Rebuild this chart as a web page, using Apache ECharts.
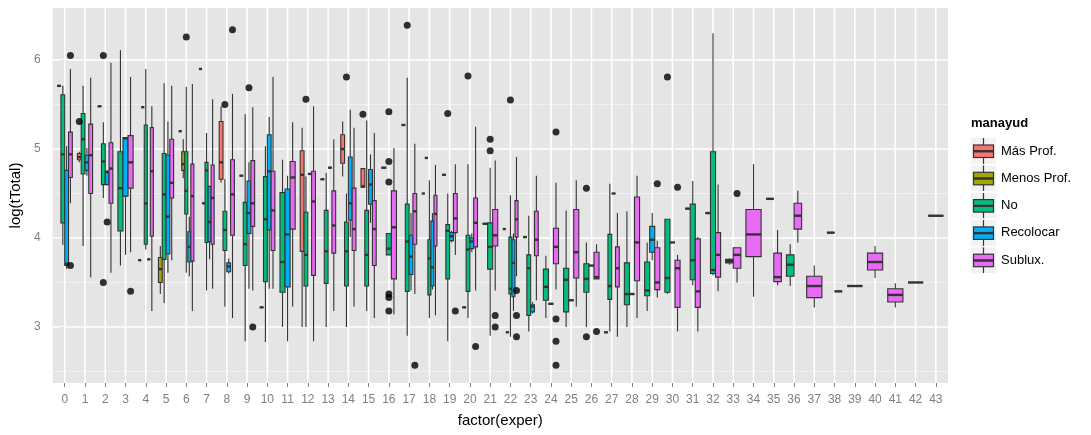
<!DOCTYPE html>
<html>
<head>
<meta charset="utf-8">
<script src="https://cdn.jsdelivr.net/npm/echarts@6/dist/echarts.min.js"></script>
<style>
  html, body { margin: 0; padding: 0; background: #ffffff; }
  #chart { width: 1091px; height: 435px; }
</style>
</head>
<body>
<div id="chart"></div>
<script>
// Experience levels (x categories) and y tick positions
const experTicks = [0,1,2,3,4,5,6,7,8,9,10,11,12,13,14,15,16,17,18,19,20,21,
                    22,23,24,25,26,27,28,29,30,31,32,33,34,35,36,37,38,39,40,41,42,43];
const yMajor = [3, 4, 5, 6];
const yMinor = [2.5, 3.5, 4.5, 5.5];

const groupNames = ['Más Prof.', 'Menos Prof.', 'No', 'Recolocar', 'Sublux.'];
const groupColors = ['#F8766D', '#A3A500', '#00BF7D', '#00B0F6', '#E76BF3'];

// Box statistics per group: [exper, lower whisker, q1, median, q3, upper whisker]
const masProf = [
  [0, 5.71, 5.71, 5.71, 5.71, 5.71],
  [1, 4.85, 4.88, 4.91, 4.95, 4.97],
  [2, 5.48, 5.48, 5.48, 5.48, 5.48],
  [4, 3.75, 3.75, 3.75, 3.75, 3.75],
  [6, 5.20, 5.20, 5.20, 5.20, 5.20],
  [7, 5.90, 5.90, 5.90, 5.90, 5.90],
  [8, 4.62, 4.66, 4.85, 5.31, 5.48],
  [9, 4.70, 4.70, 4.70, 4.70, 4.70],
  [10, 3.22, 3.22, 3.22, 3.22, 3.22],
  [12, 3.00, 3.85, 4.71, 4.98, 5.24],
  [13, 4.66, 4.66, 4.66, 4.66, 4.66],
  [14, 4.69, 4.84, 5.00, 5.16, 5.31],
  [15, 4.57, 4.57, 4.58, 4.78, 4.78],
  [16, 4.79, 4.79, 4.79, 4.79, 4.79],
  [17, 5.27, 5.27, 5.27, 5.27, 5.27],
  [18, 4.50, 4.50, 4.50, 4.50, 4.50],
  [19, 4.71, 4.71, 4.71, 4.71, 4.71],
  [20, 3.22, 3.22, 3.22, 3.22, 3.22],
  [21, 4.16, 4.16, 4.16, 4.16, 4.16],
  [22, 4.10, 4.10, 4.10, 4.10, 4.10],
  [23, 4.01, 4.01, 4.01, 4.01, 4.01],
  [27, 2.94, 2.94, 2.94, 2.94, 2.94],
  [31, 4.33, 4.33, 4.33, 4.33, 4.33],
  [32, 4.28, 4.28, 4.28, 4.28, 4.28],
  [38, 4.06, 4.06, 4.06, 4.06, 4.06]
];
const menosProf = [
  [4, 5.47, 5.47, 5.47, 5.47, 5.47],
  [5, 3.37, 3.50, 3.65, 3.78, 3.91],
  [6, 4.67, 4.76, 4.83, 4.97, 5.11],
  [7, 4.39, 4.39, 4.39, 4.39, 4.39],
  [18, 4.90, 4.90, 4.90, 4.90, 4.90],
  [22, 2.94, 2.94, 2.94, 2.94, 2.94]
];
const no = [
  [0, 3.92, 4.17, 4.94, 5.61, 5.71],
  [1, 3.91, 4.72, 5.11, 5.40, 5.71],
  [2, 4.45, 4.60, 4.86, 5.06, 5.30],
  [3, 3.69, 4.08, 4.56, 4.97, 6.11],
  [4, 3.87, 3.93, 4.39, 5.27, 5.90],
  [5, 3.27, 3.76, 4.49, 4.95, 5.74],
  [6, 3.61, 4.27, 4.53, 4.97, 5.70],
  [7, 3.41, 3.95, 4.76, 4.85, 5.18],
  [8, 3.23, 3.86, 4.09, 4.30, 4.66],
  [9, 2.84, 3.69, 3.93, 4.40, 5.39],
  [10, 2.83, 3.51, 4.21, 4.69, 5.03],
  [11, 3.00, 3.39, 3.73, 4.51, 4.88],
  [12, 3.00, 3.46, 3.81, 4.29, 4.69],
  [13, 3.00, 3.49, 3.85, 4.31, 4.73],
  [14, 3.00, 3.46, 3.85, 4.18, 4.50],
  [15, 3.18, 3.46, 3.81, 4.31, 5.32],
  [16, 3.81, 3.81, 3.88, 4.05, 4.05],
  [17, 2.90, 3.40, 3.96, 4.38, 5.80],
  [18, 3.10, 3.36, 3.77, 3.98, 4.65],
  [19, 2.84, 3.54, 4.08, 4.15, 4.50],
  [20, 3.10, 3.40, 3.87, 4.03, 4.83],
  [21, 2.90, 3.65, 3.90, 4.17, 4.79],
  [22, 2.89, 3.37, 3.43, 4.01, 4.48],
  [23, 2.95, 3.13, 3.66, 3.81, 4.25],
  [24, 3.10, 3.30, 3.45, 3.65, 3.80],
  [25, 3.00, 3.17, 3.53, 3.66, 4.31],
  [26, 3.00, 3.39, 3.54, 3.71, 3.95],
  [27, 2.95, 3.31, 3.46, 4.04, 4.61],
  [28, 3.00, 3.25, 3.37, 3.72, 4.30],
  [29, 3.18, 3.35, 3.41, 3.73, 3.95],
  [30, 3.37, 3.39, 3.55, 4.21, 4.21],
  [31, 3.47, 3.53, 3.75, 4.38, 4.64],
  [32, 3.58, 3.60, 3.64, 4.97, 6.30],
  [33, 3.70, 3.72, 3.74, 3.76, 3.77],
  [36, 3.46, 3.57, 3.70, 3.81, 3.93]
];
const recolocar = [
  [0, 3.65, 3.69, 3.71, 4.76, 5.03],
  [1, 4.70, 4.76, 4.85, 4.93, 5.01],
  [2, 4.60, 4.60, 4.74, 4.75, 4.76],
  [3, 3.81, 4.47, 5.12, 5.13, 5.13],
  [4, 3.76, 3.76, 3.76, 3.76, 3.76],
  [5, 3.61, 3.82, 4.24, 4.93, 5.31],
  [6, 3.57, 3.73, 3.90, 4.07, 4.24],
  [7, 3.76, 3.96, 4.18, 4.58, 4.58],
  [8, 3.60, 3.62, 3.68, 3.72, 3.77],
  [9, 3.43, 4.05, 4.28, 4.64, 4.85],
  [10, 3.43, 4.09, 4.75, 5.16, 5.36],
  [11, 2.84, 3.45, 4.04, 4.55, 4.70],
  [12, 4.72, 4.72, 4.72, 4.72, 4.72],
  [13, 4.79, 4.79, 4.79, 4.79, 4.79],
  [14, 4.01, 4.20, 4.39, 4.91, 5.44],
  [15, 4.17, 4.38, 4.60, 4.77, 4.94],
  [17, 3.41, 3.59, 3.79, 4.03, 4.28],
  [18, 3.42, 3.46, 3.67, 4.19, 4.28],
  [19, 3.95, 3.97, 4.02, 4.06, 4.08],
  [20, 3.84, 3.88, 3.96, 4.00, 4.05],
  [22, 3.18, 3.34, 3.72, 3.98, 4.05],
  [23, 3.15, 3.17, 3.23, 3.25, 3.28],
  [24, 3.26, 3.26, 3.26, 3.26, 3.26],
  [25, 3.30, 3.30, 3.30, 3.30, 3.30],
  [26, 3.69, 3.69, 3.69, 3.69, 3.69],
  [27, 4.50, 4.50, 4.50, 4.50, 4.50],
  [28, 3.37, 3.37, 3.37, 3.37, 3.37],
  [29, 3.75, 3.84, 3.98, 4.13, 4.28],
  [30, 3.95, 3.95, 3.95, 3.95, 3.95],
  [35, 4.44, 4.44, 4.44, 4.44, 4.44]
];
const sublux = [
  [0, 4.39, 4.68, 4.94, 5.19, 5.90],
  [1, 3.56, 4.50, 4.93, 5.28, 5.80],
  [2, 3.61, 4.39, 4.78, 5.07, 5.97],
  [3, 3.84, 4.56, 4.85, 5.15, 5.81],
  [4, 3.18, 4.02, 4.75, 5.24, 5.48],
  [5, 3.75, 4.45, 4.62, 5.11, 5.71],
  [6, 3.18, 3.74, 4.47, 4.83, 5.73],
  [7, 3.43, 3.93, 4.45, 4.82, 5.56],
  [8, 3.10, 4.03, 4.49, 4.88, 5.62],
  [9, 3.41, 4.13, 4.39, 4.87, 5.47],
  [10, 3.43, 3.86, 4.31, 4.75, 5.81],
  [11, 3.23, 4.10, 4.68, 4.86, 5.30],
  [12, 2.84, 3.58, 4.41, 4.75, 5.48],
  [13, 3.18, 3.83, 4.14, 4.53, 5.11],
  [14, 3.23, 3.86, 4.10, 4.56, 5.24],
  [15, 3.10, 3.69, 4.10, 4.42, 5.18],
  [16, 3.14, 3.54, 4.12, 4.53, 5.01],
  [17, 3.37, 3.93, 4.30, 4.50, 5.06],
  [18, 3.13, 3.91, 4.27, 4.48, 4.82],
  [19, 3.81, 4.06, 4.22, 4.50, 4.83],
  [20, 3.41, 3.90, 4.17, 4.45, 5.25],
  [21, 3.41, 3.91, 4.03, 4.32, 4.87],
  [22, 3.57, 4.01, 4.21, 4.42, 4.91],
  [23, 3.30, 3.80, 3.98, 4.30, 4.70],
  [24, 3.42, 3.71, 3.90, 4.11, 4.62],
  [25, 3.23, 3.55, 3.84, 4.32, 4.65],
  [26, 3.54, 3.54, 3.56, 3.84, 3.93],
  [27, 2.89, 3.45, 3.66, 3.90, 4.28],
  [28, 3.10, 3.52, 3.95, 4.46, 4.70],
  [29, 3.33, 3.42, 3.50, 3.89, 3.97],
  [30, 2.95, 3.22, 3.66, 3.75, 3.81],
  [31, 2.95, 3.22, 3.40, 3.99, 4.01],
  [32, 3.40, 3.56, 3.81, 4.06, 4.60],
  [33, 3.50, 3.66, 3.81, 3.89, 3.89],
  [34, 3.34, 3.79, 4.04, 4.32, 4.83],
  [35, 3.47, 3.51, 3.56, 3.83, 4.09],
  [36, 3.95, 4.10, 4.25, 4.39, 4.53],
  [37, 3.22, 3.33, 3.46, 3.57, 3.69],
  [38, 3.40, 3.40, 3.40, 3.40, 3.40],
  [39, 3.46, 3.46, 3.46, 3.46, 3.46],
  [40, 3.55, 3.64, 3.73, 3.83, 3.91],
  [41, 3.22, 3.28, 3.36, 3.43, 3.49],
  [42, 3.50, 3.50, 3.50, 3.50, 3.50],
  [43, 4.25, 4.25, 4.25, 4.25, 4.25]
];

// Outlying observations per group: [exper, log(tTotal)]
const masProfOut = [[1, 5.31], [15, 5.39]];
const menosProfOut = [];
const noOut = [
  [2, 6.05], [2, 3.50], [6, 6.26], [8, 5.50], [12, 5.56], [14, 5.81],
  [16, 5.42], [16, 4.86], [16, 4.63], [16, 3.37], [16, 3.33], [16, 3.18],
  [17, 6.39], [19, 5.40], [20, 5.82], [21, 5.11], [21, 4.98], [22, 5.55],
  [26, 4.56], [26, 2.89], [30, 5.81]
];
const recolocarOut = [[2, 4.18], [9, 5.69]];
const subluxOut = [
  [0, 6.05], [0, 3.69], [3, 3.40], [8, 6.34], [9, 3.00], [17, 2.57],
  [19, 3.18], [20, 2.78], [21, 3.13], [21, 3.00], [22, 3.41], [22, 3.13],
  [22, 2.89], [24, 5.19], [24, 3.09], [24, 2.84], [24, 2.57], [26, 2.95],
  [29, 4.61], [30, 4.57], [33, 4.50]
];

const boxGroups = [masProf, menosProf, no, recolocar, sublux];
const outGroups = [masProfOut, menosProfOut, noOut, recolocarOut, subluxOut];

// Side-by-side placement: the 0.75-wide slot of each level is split
// between the groups that actually occur at that level.
const DODGE = 0.75;
const present = {};
boxGroups.forEach((rows, g) => rows.forEach(r => {
  (present[r[0]] = present[r[0]] || []).push(g);
}));
Object.keys(present).forEach(k => present[k].sort((a, b) => a - b));
function dodgeCenter(k, g) {
  const list = present[k];
  const n = list.length;
  const s = list.indexOf(g);
  return k + DODGE * ((s + 0.5) / n - 0.5);
}
function dodgeWidth(k) { return DODGE / present[k].length; }

const X_MIN = -0.6, X_MAX = 43.6;
const Y_MIN = 2.37, Y_MAX = 6.585;
const FONT = '"Liberation Sans", Arial, sans-serif';
const INK = '#333333';

function renderBox(params, api) {
  const x = api.value(0);
  const hw = api.value(6) / 2;
  const lo = api.value(1), q1 = api.value(2), med = api.value(3), q3 = api.value(4), hi = api.value(5);
  const tl = api.coord([x - hw, q3]);
  const br = api.coord([x + hw, q1]);
  const mid = api.coord([x, med]);
  const top = api.coord([x, hi]);
  const bot = api.coord([x, lo]);
  const line = { stroke: INK, lineWidth: 1.1 };
  return {
    type: 'group',
    children: [
      { type: 'line', shape: { x1: top[0], y1: top[1], x2: top[0], y2: tl[1] }, style: line },
      { type: 'line', shape: { x1: bot[0], y1: br[1], x2: bot[0], y2: bot[1] }, style: line },
      { type: 'rect', shape: { x: tl[0], y: tl[1], width: br[0] - tl[0], height: br[1] - tl[1] },
        style: { fill: api.visual('color'), stroke: INK, lineWidth: 1.1 } },
      { type: 'line', shape: { x1: tl[0], y1: mid[1], x2: br[0], y2: mid[1] },
        style: { stroke: INK, lineWidth: 2.4 } }
    ]
  };
}

function gridLines(values, vertical, color, width) {
  return {
    type: 'custom',
    silent: true,
    z: 1,
    data: values.map(v => vertical ? [v, Y_MIN] : [X_MIN, v]),
    encode: { x: 0, y: 1 },
    renderItem: (params, api) => {
      const cs = params.coordSys;
      const p = api.coord([api.value(0), api.value(1)]);
      const shape = vertical
        ? { x1: p[0], y1: cs.y, x2: p[0], y2: cs.y + cs.height }
        : { x1: cs.x, y1: p[1], x2: cs.x + cs.width, y2: p[1] };
      return { type: 'line', shape: shape, style: { stroke: color, lineWidth: width } };
    }
  };
}

function keyIcon(color) {
  const svg = '<svg xmlns="http://www.w3.org/2000/svg" width="25" height="26" viewBox="0 0 25 26">' +
    '<rect x="0" y="0" width="25" height="26" fill="#F2F2F2"/>' +
    '<line x1="12.5" y1="0" x2="12.5" y2="26" stroke="#333333" stroke-width="1.2"/>' +
    '<rect x="2.5" y="7" width="20" height="12.5" fill="' + color + '" stroke="#333333" stroke-width="1.2"/>' +
    '<line x1="2.5" y1="13.25" x2="22.5" y2="13.25" stroke="#333333" stroke-width="2.4"/>' +
    '</svg>';
  return 'image://data:image/svg+xml;charset=utf-8,' + encodeURIComponent(svg);
}

const boxSeries = boxGroups.map((rows, g) => ({
  type: 'custom',
  name: groupNames[g],
  z: 3,
  itemStyle: { color: groupColors[g] },
  data: rows.map(r => [dodgeCenter(r[0], g), r[1], r[2], r[3], r[4], r[5], dodgeWidth(r[0])]),
  encode: { x: 0, y: [1, 2, 3, 4, 5] },
  renderItem: renderBox
}));

const outlierPoints = [];
outGroups.forEach((pts, g) => pts.forEach(p => outlierPoints.push([dodgeCenter(p[0], g), p[1]])));

const chart = echarts.init(document.getElementById('chart'), null, { renderer: 'canvas' });
chart.setOption({
  animation: false,
  backgroundColor: '#ffffff',
  textStyle: { fontFamily: FONT },
  title: {
    text: 'manayud',
    left: 971, top: 117, padding: 0,
    textStyle: { fontFamily: FONT, fontSize: 13, fontWeight: 'bold', color: '#000000' }
  },
  legend: {
    orient: 'vertical',
    left: 971, top: 138, padding: 0,
    itemWidth: 25, itemHeight: 26, itemGap: 1.3,
    selectedMode: false,
    textStyle: { fontFamily: FONT, fontSize: 13, color: '#000000' },
    data: groupNames.map((name, i) => ({ name: name, icon: keyIcon(groupColors[i]) }))
  },
  grid: {
    left: 48, top: 8, width: 900, height: 375,
    show: true, backgroundColor: '#E5E5E5', borderWidth: 0
  },
  xAxis: {
    type: 'value', min: X_MIN, max: X_MAX,
    name: 'factor(exper)', nameLocation: 'middle', nameGap: 30,
    nameTextStyle: { fontFamily: FONT, fontSize: 15, color: '#000000' },
    axisLine: { show: false },
    axisTick: { show: true, length: 4, customValues: experTicks, lineStyle: { color: '#7F7F7F', width: 1 } },
    axisLabel: { customValues: experTicks, margin: 11, fontFamily: FONT, fontSize: 12, color: '#7F7F7F' },
    splitLine: { show: false }
  },
  yAxis: {
    type: 'value', min: Y_MIN, max: Y_MAX,
    name: 'log(tTotal)', nameLocation: 'middle', nameGap: 19,
    nameTextStyle: { fontFamily: FONT, fontSize: 15, color: '#000000' },
    axisLine: { show: false },
    axisTick: { show: true, length: 4, customValues: yMajor, lineStyle: { color: '#7F7F7F', width: 1 } },
    axisLabel: { customValues: yMajor, margin: 12, fontFamily: FONT, fontSize: 12, color: '#7F7F7F' },
    splitLine: { show: false }
  },
  series: [
    gridLines(yMinor, false, '#F2F2F2', 1),
    gridLines(yMajor, false, '#FFFFFF', 1.6),
    gridLines(experTicks, true, '#FFFFFF', 1.6)
  ].concat(boxSeries).concat([{
    type: 'scatter',
    name: 'outliers',
    z: 4,
    symbol: 'circle',
    symbolSize: 7,
    itemStyle: { color: '#000000' },
    data: outlierPoints
  }])
});
</script>
</body>
</html>
